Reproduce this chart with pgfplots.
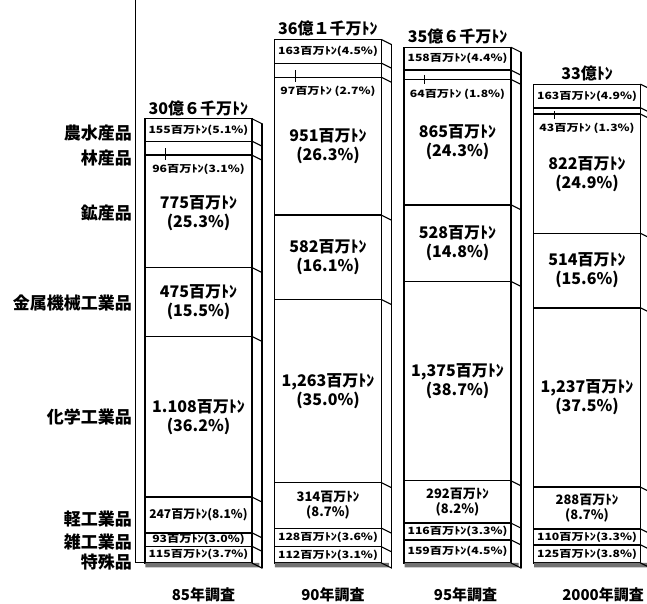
\documentclass[border=0pt]{standalone}
\usepackage{pgfplots}
\pgfplotsset{compat=1.18}
\usepackage{pgfplotstable}
\usepackage{fontspec}
\usepackage{graphicx}
\setmainfont{Noto Sans CJK JP}
\pgfplotstableread{
x toku zatsu kei kagaku kinzoku kozan rin nosui
0 115 93 247 1108 475 775 96 155
1 112 128 314 1263 582 951 97 163
2 159 116 292 1375 528 865 64 158
3 125 110 288 1237 514 822 43 163
}\mydata
\newcommand\fontbigl{\fontsize{16}{19}\selectfont\bfseries}
\newcommand\fonttotl{\fontsize{16}{16}\selectfont\bfseries}
\newcommand\fontmedl{\fontsize{13}{15}\selectfont\bfseries}
\newcommand\fontmedsl{\fontsize{12}{14}\selectfont\bfseries}
\newcommand\fontsml{\fontsize{10}{10}\selectfont\bfseries}
\newcommand\smalllab[1]{\scalebox{1.22}[1]{\fontsml #1}}
\newcommand\fontcatl{\fontsize{17}{17}\selectfont\bfseries}
\tikzset{
  catl/.style={anchor=east, font=\fontcatl, inner sep=1pt, xshift=-2pt},
  totl/.style={anchor=south, font=\fonttotl, inner sep=1pt, yshift=2pt},
  bigl/.style={align=center, font=\fontbigl, inner sep=0pt},
  medl/.style={align=center, font=\fontmedl, inner sep=0pt},
  sml/.style={inner sep=0pt},
  rinl/.style={inner sep=0pt, anchor=north, yshift=-9pt},
  rint/.style={line width=0.9pt, xshift=-33pt},
  sideln/.style={line width=1.1pt, line cap=round}
}
\pgfplotsset{base/.style={scale only axis, width=512pt, height=563pt,
  at={(135pt,41pt)}, anchor=south west, xmin=-0.49, xmax=3.463,
  ymin=0, ymax=3883, clip=false},
  frontbar/.style={fill=white, draw=black, line width=1.4pt}}
\newcommand\sidefaces[3]{% bar index, total, list of boundaries
  \pgfplotsinvokeforeach{#3}{\draw[sideln] ([xshift=53.5pt]axis cs:#1,##1) -- ([xshift=63.5pt,yshift=-5pt]axis cs:#1,##1);}
  \draw[sideln] ([xshift=63.5pt,yshift=-5pt]axis cs:#1,0) -- ([xshift=63.5pt,yshift=-5pt]axis cs:#1,#2);
}
\begin{document}
\begin{tikzpicture}
\path[use as bounding box] (0,0) rectangle (647pt,604pt);
% front faces
\begin{axis}[base, ybar stacked, bar width=107pt,
  axis y line*=left, axis x line*=bottom, x axis line style={draw=none},
  y axis line style={line width=1pt},
  ytick=\empty, xtick={0,1,2,3}, xticklabels={85年調査,90年調査,\hspace{6pt}95年調査,\hspace{22pt}2000年調査},
  major tick length=0pt,
  xticklabel style={font=\fontsize{15}{15}\selectfont\bfseries, anchor=base, yshift=-38pt, xshift=5pt}]
\addplot[frontbar] table[x=x,y=toku]{\mydata};
\addplot[frontbar] table[x=x,y=zatsu]{\mydata};
\addplot[frontbar] table[x=x,y=kei]{\mydata};
\addplot[frontbar] table[x=x,y=kagaku]{\mydata};
\addplot[frontbar] table[x=x,y=kinzoku]{\mydata};
\addplot[frontbar] table[x=x,y=kozan]{\mydata};
\addplot[frontbar] table[x=x,y=rin]{\mydata};
\addplot[frontbar] table[x=x,y=nosui]{\mydata};
\end{axis}
% annotations, side faces and base shadow
\begin{axis}[base, hide axis]
\addplot[ybar, bar width=114pt, bar shift=4pt, fill=black!55, draw=none]
  coordinates {(0,-30) (1,-30) (2,-30) (3,-30)};
\sidefaces{0}{3064}{0,115,208,455,1563,2038,2813,2909,3064}
\sidefaces{1}{3610}{0,112,240,554,1817,2399,3350,3447,3610}
\sidefaces{2}{3557}{0,159,275,567,1942,2470,3335,3399,3557}
\sidefaces{3}{3302}{0,125,235,523,1760,2274,3096,3139,3302}
\draw[line width=1pt] (rel axis cs:0,0) -- ([xshift=-53.5pt]axis cs:0,0);
\node[catl] at (axis cs:-0.49,2966) {農水産品};
\node[catl] at (axis cs:-0.49,2793) {林産品};
\node[catl] at (axis cs:-0.49,2414) {鉱産品};
\node[catl] at (axis cs:-0.49,1793) {金属機械工業品};
\node[catl] at (axis cs:-0.49,1007) {化学工業品};
\node[catl] at (axis cs:-0.49,303) {軽工業品};
\node[catl] at (axis cs:-0.49,145) {雑工業品};
\node[catl] at (axis cs:-0.49,5) {特殊品};
\node[totl] at (axis cs:0,3064) {30億６千万ﾄﾝ};
\node[totl] at (axis cs:1,3610) {36億１千万ﾄﾝ};
\node[totl] at (axis cs:2,3557) {35億６千万ﾄﾝ};
\node[totl] at (axis cs:3,3302) {33億ﾄﾝ};
\node[bigl] at (axis cs:0,2415) {775百万ﾄﾝ\\(25.3\%)};
\node[bigl] at (axis cs:0,1800) {475百万ﾄﾝ\\(15.5\%)};
\node[bigl] at (axis cs:0,1009) {1.108百万ﾄﾝ\\(36.2\%)};
\node[bigl] at (axis cs:1,2874) {951百万ﾄﾝ\\(26.3\%)};
\node[bigl] at (axis cs:1,2108) {582百万ﾄﾝ\\(16.1\%)};
\node[bigl] at (axis cs:1,1185) {1,263百万ﾄﾝ\\(35.0\%)};
\node[bigl] at (axis cs:2,2902) {865百万ﾄﾝ\\(24.3\%)};
\node[bigl] at (axis cs:2,2206) {528百万ﾄﾝ\\(14.8\%)};
\node[bigl] at (axis cs:2,1254) {1,375百万ﾄﾝ\\(38.7\%)};
\node[bigl] at (axis cs:3,2685) {822百万ﾄﾝ\\(24.9\%)};
\node[bigl] at (axis cs:3,2017) {514百万ﾄﾝ\\(15.6\%)};
\node[bigl] at (axis cs:3,1141) {1,237百万ﾄﾝ\\(37.5\%)};
\node[medl, font=\fontmedsl] at (axis cs:0,331) {247百万ﾄﾝ(8.1\%)};
\node[medl] at (axis cs:1,397) {314百万ﾄﾝ\\(8.7\%)};
\node[medl] at (axis cs:2,421) {292百万ﾄﾝ\\(8.2\%)};
\node[medl] at (axis cs:3,379) {288百万ﾄﾝ\\(8.7\%)};
\node[sml] at (axis cs:0,2986) {\smalllab{155百万ﾄﾝ(5.1\%)}};
\node[sml] at (axis cs:0,161) {\smalllab{93百万ﾄﾝ(3.0\%)}};
\node[sml] at (axis cs:0,57) {\smalllab{115百万ﾄﾝ(3.7\%)}};
\node[sml] at (axis cs:1,3528) {\smalllab{163百万ﾄﾝ(4.5\%)}};
\node[sml] at (axis cs:1,176) {\smalllab{128百万ﾄﾝ(3.6\%)}};
\node[sml] at (axis cs:1,56) {\smalllab{112百万ﾄﾝ(3.1\%)}};
\node[sml] at (axis cs:2,3478) {\smalllab{158百万ﾄﾝ(4.4\%)}};
\node[sml] at (axis cs:2,217) {\smalllab{116百万ﾄﾝ(3.3\%)}};
\node[sml] at (axis cs:2,79) {\smalllab{159百万ﾄﾝ(4.5\%)}};
\node[sml] at (axis cs:3,3220) {\smalllab{163百万ﾄﾝ(4.9\%)}};
\node[sml] at (axis cs:3,180) {\smalllab{110百万ﾄﾝ(3.3\%)}};
\node[sml] at (axis cs:3,62) {\smalllab{125百万ﾄﾝ(3.8\%)}};
\node[rinl] at (axis cs:0,2813) {\smalllab{96百万ﾄﾝ(3.1\%)}};
\node[rinl] at (axis cs:1,3350) {\smalllab{97百万ﾄﾝ (2.7\%)}};
\node[rinl] at (axis cs:2,3335) {\smalllab{64百万ﾄﾝ (1.8\%)}};
\node[rinl] at (axis cs:3,3096) {\smalllab{43百万ﾄﾝ (1.3\%)}};
\draw[rint] (axis cs:0,2861) -- (axis cs:0,2779);
\draw[rint] (axis cs:1,3398) -- (axis cs:1,3316);
\draw[rint] (axis cs:2,3367) -- (axis cs:2,3301);
\draw[rint] (axis cs:3,3117) -- (axis cs:3,3062);
\end{axis}
\end{tikzpicture}
\end{document}
